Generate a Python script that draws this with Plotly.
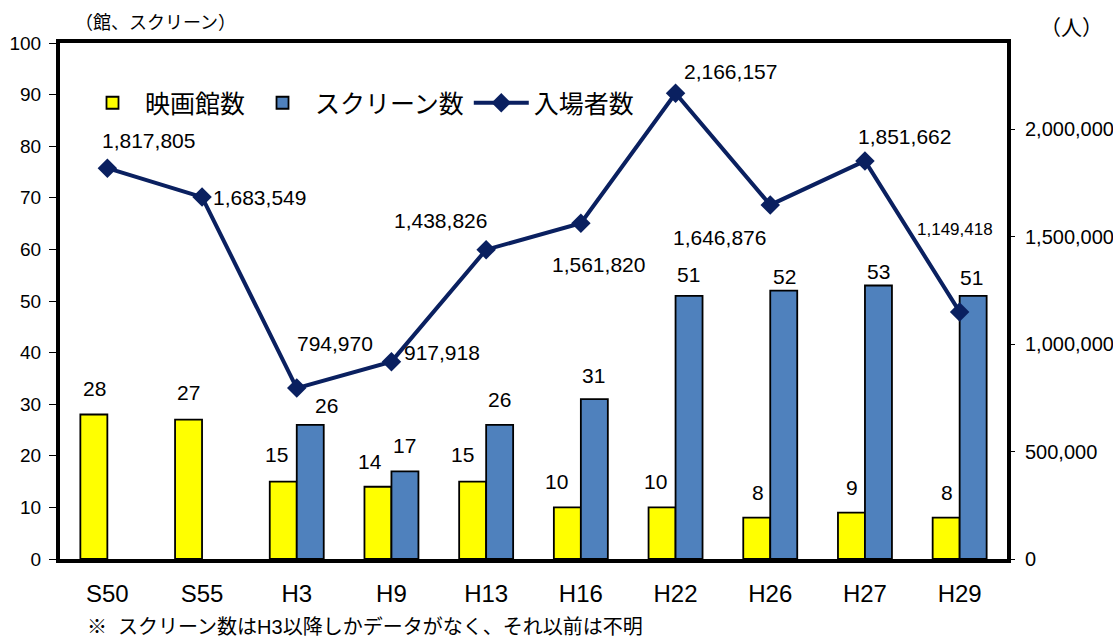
import plotly.graph_objects as go

categories = ["S50", "S55", "H3", "H9", "H13", "H16", "H22", "H26", "H27", "H29"]
theaters = [28, 27, 15, 14, 15, 10, 10, 8, 9, 8]
screens = [None, None, 26, 17, 26, 31, 51, 52, 53, 51]
visitors = [1817805, 1683549, 794970, 917918, 1438826, 1561820, 2166157, 1646876, 1851662, 1149418]
left_ticks = list(range(0, 101, 10))
right_ticks = [0, 500000, 1000000, 1500000, 2000000]

# label offsets (pixels, relative to category centre / value) -- styling only
vis_dx = [41, 57, 38, 51, -46, 18, 55, -51, 40, -5]
vis_dy = [28, 0, 45, 9, 29, -41, 22, -33, 24, 82]
vis_size = [21, 21, 21, 21, 21, 21, 21, 21, 21, 17]
th_dx = [-13, -14, -20, -21, -24, -24, -20, -12, -12.5, -13]
th_dy = [26.5, 27, 27, 25, 27, 26, 26, 25.5, 25, 25.5]
sc_dx = [0, 0, 30, 13.5, 13.5, 13, 12.5, 14, 14, 12]
sc_dy = [0, 0, 19, 26, 25, 24, 21, 14, 14, 18]

FONT = "Liberation Sans, Arial, Noto Sans CJK JP"
LINE_COLOR = "#0a2060"

W, H = 1113, 641
ML, MR, MT, MB = 60, 106, 43, 82
pw = W - ML - MR
ph = H - MT - MB


def px(xp):
    return (xp - ML) / pw


def py(yp):
    return (H - MB - yp) / ph


fig = go.Figure()
fig.add_trace(go.Bar(
    x=categories, y=theaters, name="映画館数",
    marker=dict(color="#ffff00", line=dict(color="black", width=1.8)),
))
fig.add_trace(go.Bar(
    x=categories, y=screens, name="スクリーン数",
    marker=dict(color="#4f81bd", line=dict(color="black", width=1.8)),
))
fig.add_trace(go.Scatter(
    x=categories, y=visitors, name="入場者数", yaxis="y2", mode="lines+markers",
    line=dict(color=LINE_COLOR, width=4),
    marker=dict(symbol="diamond", size=15, color=LINE_COLOR),
))

# bar value labels
for c, v, dx, dy in zip(categories, theaters, th_dx, th_dy):
    fig.add_annotation(x=c, y=v, xref="x", yref="y", text=str(v), showarrow=False,
                       xanchor="center", yanchor="middle", xshift=dx, yshift=dy,
                       font=dict(size=21, color="black", family=FONT))
for c, v, dx, dy in zip(categories, screens, sc_dx, sc_dy):
    if v is None:
        continue
    fig.add_annotation(x=c, y=v, xref="x", yref="y", text=str(v), showarrow=False,
                       xanchor="center", yanchor="middle", xshift=dx, yshift=dy,
                       font=dict(size=21, color="black", family=FONT))

# visitor labels
for c, v, dx, dy, s in zip(categories, visitors, vis_dx, vis_dy, vis_size):
    fig.add_annotation(x=c, y=v, xref="x", yref="y2", text=f"{v:,}", showarrow=False,
                       xanchor="center", yanchor="middle", xshift=dx, yshift=dy,
                       font=dict(size=s, color="black", family=FONT))

fig.add_annotation(x=px(155), y=py(23), xref="paper", yref="paper", text="（館、スクリーン）",
                   xanchor="center", yanchor="middle", showarrow=False,
                   font=dict(size=18, color="black", family=FONT))
fig.add_annotation(x=px(1071), y=py(28), xref="paper", yref="paper", text="（人）",
                   xanchor="center", yanchor="middle", showarrow=False,
                   font=dict(size=21, color="black", family=FONT))
fig.add_annotation(x=px(85), y=py(627), xref="paper", yref="paper",
                   xanchor="left", yanchor="middle",
                   text="※  スクリーン数はH3以降しかデータがなく、それ以前は不明",
                   showarrow=False, font=dict(size=20, color="black", family=FONT))

fig.update_layout(
    width=W, height=H,
    margin=dict(l=ML, r=MR, t=MT, b=MB, autoexpand=False),
    paper_bgcolor="white", plot_bgcolor="white",
    font=dict(family=FONT, color="black"),
    barmode="group", bargap=0.43, bargroupgap=0,
    showlegend=True,
    legend=dict(orientation="h", x=px(80), y=py(103), xanchor="left", yanchor="middle",
                font=dict(size=25, family=FONT), bgcolor="rgba(0,0,0,0)",
                itemwidth=55, tracegroupgap=0),
    xaxis=dict(type="category", range=[-0.5, 9.5], showline=True, linecolor="black",
               linewidth=4, mirror=True, ticks="", tickfont=dict(size=24, family=FONT),
               ticklabelstandoff=10, automargin=False),
    yaxis=dict(range=[0, 100], tickvals=left_ticks, showgrid=False, showline=True,
               linecolor="black", linewidth=4, mirror=True, ticks="outside", ticklen=7,
               tickcolor="black", tickfont=dict(size=19, family=FONT), zeroline=False,
               ticklabelstandoff=4, automargin=False),
    yaxis2=dict(range=[0, 2400000], tickvals=right_ticks,
                ticktext=[f"{v:,}" for v in right_ticks], overlaying="y", side="right",
                showgrid=False, showline=False, ticks="outside", ticklen=7, tickcolor="black",
                tickfont=dict(size=20, family=FONT), zeroline=False, ticklabelstandoff=6,
                automargin=False),
)

fig.write_html("out.html")
